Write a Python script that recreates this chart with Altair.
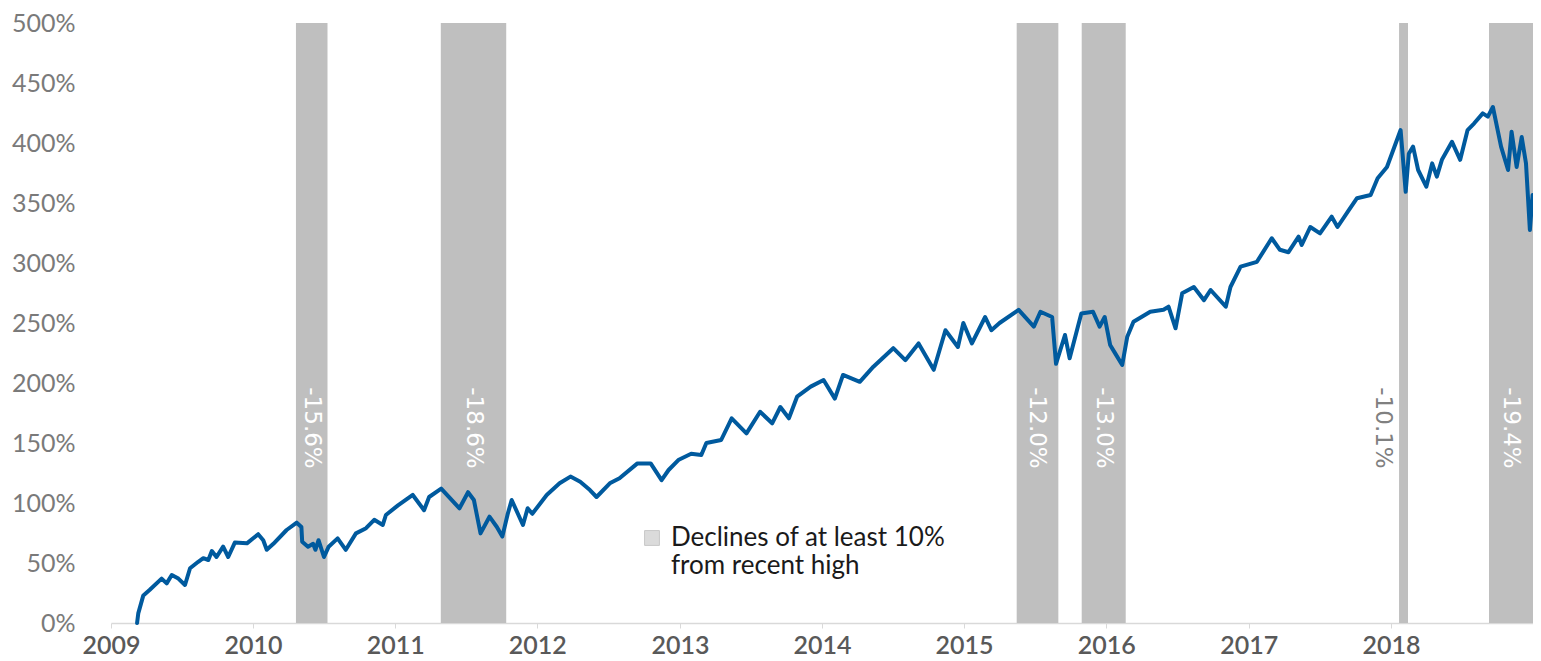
import altair as alt
import pandas as pd

# ---- cumulative return series ----
dates = [
    "2009-03-09", "2009-03-12", "2009-03-25", "2009-04-10", "2009-05-11", "2009-05-24",
    "2009-06-06", "2009-06-23", "2009-07-10", "2009-07-23", "2009-08-13", "2009-08-26",
    "2009-09-08", "2009-09-17", "2009-09-29", "2009-10-16", "2009-10-29", "2009-11-15",
    "2009-12-16", "2010-01-14", "2010-01-27", "2010-02-05", "2010-02-22", "2010-03-28",
    "2010-04-23", "2010-05-05", "2010-05-07", "2010-05-22", "2010-06-04", "2010-06-10",
    "2010-06-18", "2010-07-02", "2010-07-14", "2010-08-06", "2010-08-27", "2010-09-22",
    "2010-10-18", "2010-11-08", "2010-11-30", "2010-12-08", "2011-01-08", "2011-02-15",
    "2011-03-16", "2011-03-29", "2011-04-29", "2011-06-15", "2011-07-07", "2011-07-22",
    "2011-08-08", "2011-08-31", "2011-09-19", "2011-10-03", "2011-10-17", "2011-10-27",
    "2011-11-25", "2011-12-07", "2011-12-19", "2012-01-25", "2012-02-27", "2012-03-26",
    "2012-04-20", "2012-05-15", "2012-06-01", "2012-07-05", "2012-07-30", "2012-09-14",
    "2012-10-18", "2012-11-15", "2012-12-03", "2012-12-28", "2013-01-30", "2013-02-25",
    "2013-03-10", "2013-04-17", "2013-05-14", "2013-06-21", "2013-07-26", "2013-08-26",
    "2013-09-16", "2013-10-08", "2013-10-29", "2013-12-03", "2014-01-05", "2014-02-03",
    "2014-02-24", "2014-04-08", "2014-05-13", "2014-07-03", "2014-08-03", "2014-09-06",
    "2014-10-15", "2014-11-14", "2014-12-16", "2014-12-30", "2015-01-21", "2015-02-24",
    "2015-03-12", "2015-04-02", "2015-05-21", "2015-06-29", "2015-07-16", "2015-08-15",
    "2015-08-25", "2015-09-17", "2015-09-29", "2015-10-29", "2015-11-28", "2015-12-15",
    "2015-12-28", "2016-01-11", "2016-01-24", "2016-02-11", "2016-02-24", "2016-03-11",
    "2016-04-23", "2016-05-27", "2016-06-09", "2016-06-27", "2016-07-14", "2016-08-13",
    "2016-09-08", "2016-09-25", "2016-11-03", "2016-11-15", "2016-12-11", "2017-01-22",
    "2017-03-01", "2017-03-22", "2017-04-13", "2017-05-09", "2017-05-17", "2017-06-08",
    "2017-07-03", "2017-08-02", "2017-08-17", "2017-09-15", "2017-10-06", "2017-11-10",
    "2017-11-28", "2017-12-22", "2018-01-26", "2018-02-08", "2018-02-16", "2018-02-27",
    "2018-03-12", "2018-04-02", "2018-04-17", "2018-04-29", "2018-05-12", "2018-06-07",
    "2018-06-28", "2018-07-17", "2018-08-03", "2018-08-25", "2018-09-07", "2018-09-20",
    "2018-10-11", "2018-10-29", "2018-11-07", "2018-11-20", "2018-12-03", "2018-12-14",
    "2018-12-24", "2018-12-31",
]
returns = [
    0, 8, 23, 27.5, 37, 33,
    40, 37, 31.7, 45.6, 51, 54,
    52.5, 60, 55, 63.6, 55, 67,
    66.4, 74, 69, 61, 66, 77.5,
    83.6, 80, 67.8, 63.6, 66, 61,
    69, 55, 63.6, 70.5, 61, 74.7,
    79, 86, 81.7, 90, 98, 106.7,
    94, 105, 112, 95.6, 109, 102.5,
    74.7, 88.6, 80, 72, 91, 102.5,
    81.7, 95.6, 91, 106.7, 116.4, 122,
    117.7, 110.8, 105, 116.4, 120.6, 133,
    133, 119, 127.5, 135.8, 141, 140,
    150, 152.5, 170.6, 158, 176, 166.4,
    180, 170.6, 188.6, 197, 202.5, 187,
    206.7, 201, 213.6, 229, 219, 233,
    211, 244, 230, 250, 233, 255,
    244, 250, 261, 247, 259.4, 255,
    216, 240, 220.6, 258, 259.4, 247,
    255, 231.7, 224.7, 215, 238.6, 251,
    259.4, 261, 263.6, 245.6, 274.7, 280,
    269, 277.5, 263.6, 280, 297, 301,
    320.6, 311, 309, 322, 315, 330,
    324.7, 338.6, 330, 344, 354, 356.7,
    370.6, 380, 410.8, 359.4, 391, 397,
    377.5, 363.6, 383, 372, 386, 401,
    386, 410.8, 416.4, 424.7, 422, 430,
    397, 377.5, 409.4, 380, 405, 383,
    327.5, 356.7,
]

# ---- decline periods ----
band_start = ["2010-04-21", "2011-04-28", "2015-05-16", "2015-10-30", "2018-01-22", "2018-09-10"]
band_end = ["2010-07-11", "2011-10-13", "2015-08-31", "2016-02-20", "2018-02-14", "2019-01-01"]
band_label = ["-15.6%", "-18.6%", "-12.0%", "-13.0%", "-10.1%", "-19.4%"]
label_inside = [True, True, True, True, False, True]
legend_name = "Declines of at least 10%"
legend_lines = ["Declines of at least 10%", "from recent high"]
label_level = 162.5  # vertical position of the rotated labels (in % units)

year_ticks = list(range(2009, 2020))
y_ticks = list(range(0, 501, 50))

line_df = pd.DataFrame({"date": dates, "ret": returns})

s = pd.to_datetime(pd.Series(band_start))
e = pd.to_datetime(pd.Series(band_end))
mid = (s + (e - s) / 2).dt.strftime("%Y-%m-%d")
band_df = pd.DataFrame({
    "start": band_start,
    "end": band_end,
    "mid": mid,
    "label": band_label,
    "inside": label_inside,
    "kind": legend_name,
})

FONT = "Lato"

x_scale = alt.Scale(domain=[alt.DateTime(year=2009, month=1, date=1),
                            alt.DateTime(year=2019, month=1, date=1)])
y_scale = alt.Scale(domain=[0, 500], nice=False)

x_axis = alt.Axis(
    title=None,
    values=[alt.DateTime(year=y, month=1, date=1) for y in year_ticks],
    labelExpr="year(datum.value) == 2019 ? '' : timeFormat(datum.value, '%Y')",
    labelFlush=False,
    grid=False,
    domainColor="#d9d9d9",
    domainWidth=1.5,
    tickColor="#d9d9d9",
    tickSize=5,
    labelFont=FONT,
    labelFontSize=25,
    labelFontWeight=600,
    labelColor="#595959",
    labelPadding=5,
)
y_axis = alt.Axis(
    title=None,
    values=y_ticks,
    labelExpr="datum.value + '%'",
    grid=False,
    domain=False,
    ticks=False,
    labelFont=FONT,
    labelFontSize=25,
    labelColor="#7a7a7a",
    labelPadding=36,
)

bands = alt.Chart(band_df).mark_rect(opacity=1).encode(
    x=alt.X("start:T", scale=x_scale, axis=x_axis),
    x2="end:T",
    y=alt.Y(datum=500, type="quantitative", scale=y_scale, axis=y_axis),
    y2=alt.Y2(datum=0),
    color=alt.Color(
        "kind:N",
        scale=alt.Scale(range=["#bfbfbf"]),
        legend=alt.Legend(
            title=None,
            orient="none",
            legendX=528,
            legendY=502,
            symbolType="square",
            symbolSize=220,
            symbolOpacity=0.55,
            symbolStrokeColor="#9a9a9a",
            symbolStrokeWidth=1,
            labelFont=FONT,
            labelFontSize=26,
            labelColor="#1a1a1a",
            labelLimit=0,
            labelOffset=6,
            labelExpr="['" + legend_lines[0] + "', '" + legend_lines[1] + "']",
        ),
    ),
)

line = alt.Chart(line_df).mark_line(
    color="#005a9e", strokeWidth=4, strokeJoin="round", strokeCap="round"
).encode(
    x=alt.X("date:T", scale=x_scale),
    y=alt.Y("ret:Q", scale=y_scale),
)

labels_in = alt.Chart(band_df).transform_filter("datum.inside").mark_text(
    angle=90, align="center", baseline="middle", font="DejaVu Sans",
    fontSize=23, color="#ffffff",
).encode(
    x=alt.X("mid:T", scale=x_scale),
    y=alt.Y(datum=label_level, type="quantitative", scale=y_scale),
    text="label:N",
)

labels_out = alt.Chart(band_df).transform_filter("!datum.inside").mark_text(
    angle=90, align="center", baseline="middle", font="DejaVu Sans",
    fontSize=23, color="#808080", dy=20,
).encode(
    x=alt.X("mid:T", scale=x_scale),
    y=alt.Y(datum=label_level, type="quantitative", scale=y_scale),
    text="label:N",
)

chart = alt.layer(bands, line, labels_in, labels_out).properties(
    width=1422,
    height=600,
    autosize=alt.AutoSizeParams(type="none"),
    padding={"left": 103, "top": 15, "right": 0, "bottom": 40},
).configure_view(stroke=None)

chart.save("out.html", embed_options={"renderer": "svg", "actions": False})
